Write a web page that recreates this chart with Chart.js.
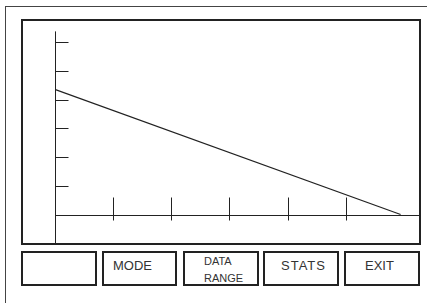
<!DOCTYPE html>
<html>
<head>
<meta charset="utf-8">
<script src="https://cdn.jsdelivr.net/npm/chart.js@4/dist/chart.umd.min.js"></script>
<style>
  html, body { margin: 0; padding: 0; background: #fff; }
  #wrap { position: relative; width: 427px; height: 303px; overflow: hidden; font-family: "Liberation Sans", Arial, sans-serif; }
  .outer { position: absolute; left: 5px; top: 6px; width: 440px; height: 320px; border: 1px solid #444; }
  .screen { position: absolute; left: 21px; top: 19px; width: 400px; height: 226px; border: 2px solid #222; box-sizing: border-box; }
  #chart { position: absolute; left: 23px; top: 21px; }
  .btn { position: absolute; top: 251px; height: 35px; border: 2px solid #222; box-sizing: border-box; color: #333; font-size: 13px; text-align: left; line-height: 15px; padding-top: 5px; white-space: nowrap; }
  .btn.small { font-size: 11px; line-height: 17px; padding-top: 0; }
</style>
</head>
<body>
<div id="wrap">
  <div class="outer"></div>
  <div class="screen"></div>
  <canvas id="chart" width="396" height="222"></canvas>
  <div id="buttons"></div>
</div>
<script>
// line from the y axis down to the x axis
const xValues = [0, 5.95];
const yValues = [4.35, 0];
// tick marks, no labels
const xTicks = [1, 2, 3, 4, 5];
const yTicks = [1, 2, 3, 4, 5, 6];
const yAxisTop = 6.38;
const buttonLabels = ["", "MODE", "DATA\nRANGE", "STATS", "EXIT"];

// [left, width, text indent]
const buttonBoxes = [[21, 76, 0], [102, 75, 9], [183, 76, 19], [263, 76, 16], [344, 76, 19]];
const btnHolder = document.getElementById("buttons");
buttonLabels.forEach((label, i) => {
  const el = document.createElement("div");
  el.className = "btn" + (label.includes("\n") ? " small" : "");
  el.style.left = buttonBoxes[i][0] + "px";
  el.style.width = buttonBoxes[i][1] + "px";
  el.style.paddingLeft = buttonBoxes[i][2] + "px";
  if (label === "STATS") el.style.letterSpacing = "1px";
  el.innerHTML = label.split("\n").join("<br>");
  btnHolder.appendChild(el);
});

const axesPlugin = {
  id: "calcAxes",
  beforeDatasetsDraw(chart) {
    const { ctx, chartArea, scales: { x, y } } = chart;
    const x0 = Math.round(x.getPixelForValue(0)) + 0.5;
    const y0 = Math.round(y.getPixelForValue(0)) + 0.5;
    ctx.save();
    ctx.strokeStyle = "#222";
    ctx.lineWidth = 1;
    ctx.beginPath();
    ctx.moveTo(x0, y.getPixelForValue(yAxisTop));
    ctx.lineTo(x0, chartArea.bottom);
    ctx.moveTo(x0, y0);
    ctx.lineTo(chartArea.right, y0);
    yTicks.forEach((t) => {
      const py = Math.round(y.getPixelForValue(t)) + 0.5;
      ctx.moveTo(x0, py);
      ctx.lineTo(x0 + 13, py);
    });
    xTicks.forEach((t) => {
      const px = Math.round(x.getPixelForValue(t)) + 0.5;
      ctx.moveTo(px, y0 - 18);
      ctx.lineTo(px, y0 + 5);
    });
    ctx.stroke();
    ctx.restore();
  }
};

new Chart(document.getElementById("chart").getContext("2d"), {
  type: "scatter",
  data: {
    datasets: [
      {
        data: xValues.map((v, i) => ({ x: v, y: yValues[i] })),
        showLine: true,
        borderColor: "#222",
        borderWidth: 1.2,
        pointRadius: 0
      }
    ]
  },
  options: {
    responsive: false,
    animation: false,
    layout: { padding: 0 },
    plugins: { legend: { display: false }, tooltip: { enabled: false } },
    scales: {
      x: { type: "linear", min: -0.56, max: 6.267, display: false },
      y: { type: "linear", min: -0.993, max: 6.742, display: false }
    }
  },
  plugins: [axesPlugin]
});
</script>
</body>
</html>
